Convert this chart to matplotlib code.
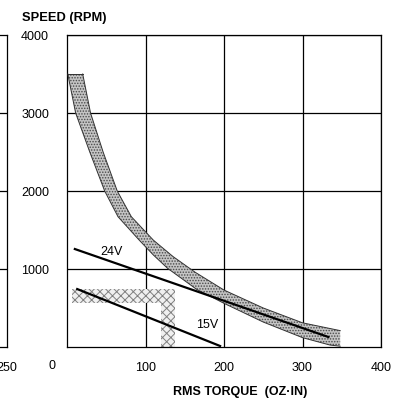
import numpy as np
import matplotlib
matplotlib.use('Agg')
import matplotlib.pyplot as plt

plt.rcParams['font.family'] = ['Liberation Sans', 'DejaVu Sans']
plt.rcParams['hatch.linewidth'] = 0.7

# operating band (speed-torque envelope), outer and inner edge
band_upper_torque = [20, 30, 46, 64, 82, 110, 135, 163, 200, 250, 300, 348]
band_upper_speed = [3500, 3000, 2500, 2000, 1670, 1370, 1160, 960, 730, 500, 310, 210]
band_lower_torque = [1, 11, 29, 48, 65, 92, 110, 128, 165, 200, 250, 300, 335, 348]
band_lower_speed = [3500, 3000, 2500, 2000, 1670, 1370, 1180, 1010, 740, 560, 320, 120, 25, 10]

# continuous duty region (L shape)
cont_torque = [6, 137, 137, 120, 120, 6]
cont_speed = [743, 743, 0, 0, 564, 564]

# supply voltage lines
v24_torque = [10, 333]
v24_speed = [1256, 128]
v15_torque = [13, 195]
v15_speed = [743, 13]

xticks = [100, 200, 300, 400]
yticks = [1000, 2000, 3000, 4000]

fig = plt.figure(figsize=(4.10, 4.01), dpi=100)
L, R, T, B = 67, 381, 35, 347
ax = fig.add_axes([L / 410, (401 - B) / 401, (R - L) / 410, (B - T) / 401])

# partial neighbouring chart cut off at the left
ax2 = fig.add_axes([(7 - 300) / 410, (401 - B) / 401, 300 / 410, (B - T) / 401])
ax2.set_xlim(0, 250)
ax2.set_ylim(0, 4000)
ax2.set_xticks([250])
ax2.set_xticklabels(['250'], fontsize=9)
ax2.set_yticks([1000, 2000, 3000])
ax2.set_yticklabels([])
ax2.tick_params(length=0, pad=11)
ax2.grid(axis='y', color='black', lw=0.9)
for s in ax2.spines.values():
    s.set_linewidth(0.9)

ax.set_xlim(0, 400)
ax.set_ylim(0, 4000)
ax.set_xticks(xticks)
ax.set_yticks(yticks)
ax.set_xticklabels([str(t) for t in xticks], fontsize=9)
ax.set_yticklabels([str(t) for t in yticks], fontsize=9)
ax.tick_params(axis='x', length=0, pad=11)
ax.tick_params(axis='y', length=0, pad=13)
ax.grid(True, color='black', lw=0.9)
ax.set_axisbelow(True)
for s in ax.spines.values():
    s.set_linewidth(0.9)
ax.text(-0.048, -0.061, '0', transform=ax.transAxes, fontsize=9,
        ha='center', va='center')

# band polygon
bx = band_upper_torque + band_lower_torque[::-1]
by = band_upper_speed + band_lower_speed[::-1]
ax.fill(bx, by, facecolor='#c4c4c4', edgecolor='#4a4a4a', hatch='......',
        lw=0, zorder=2, clip_on=False)
ax.plot(band_upper_torque, band_upper_speed, color='#333333', lw=0.7, zorder=3)
ax.plot(band_lower_torque, band_lower_speed, color='#333333', lw=0.7, zorder=3)
ax.plot([band_upper_torque[0], band_lower_torque[0]],
        [band_upper_speed[0], band_lower_speed[0]], color='#333333', lw=0.7, zorder=3)

# continuous region
ax.fill(cont_torque, cont_speed, facecolor='#f0f0f0', edgecolor='#808080',
        hatch='xxxx', lw=0, zorder=2)

ax.plot(v24_torque, v24_speed, color='black', lw=1.6, zorder=4)
ax.plot(v15_torque, v15_speed, color='black', lw=1.6, zorder=4)
ax.text(57, 1222, '24V', fontsize=9, ha='center', va='center', zorder=5)
ax.text(179, 282, '15V', fontsize=9, ha='center', va='center', zorder=5)

fig.text(22 / 410, 1 - 18 / 401, 'SPEED (RPM)', fontsize=9.3, fontweight='bold',
         ha='left', va='center')
fig.text(240 / 410, 1 - 392 / 401, 'RMS TORQUE  (OZ\u00b7IN)', fontsize=9,
         fontweight='bold', ha='center', va='center')

fig.savefig('out.png', dpi=100)
